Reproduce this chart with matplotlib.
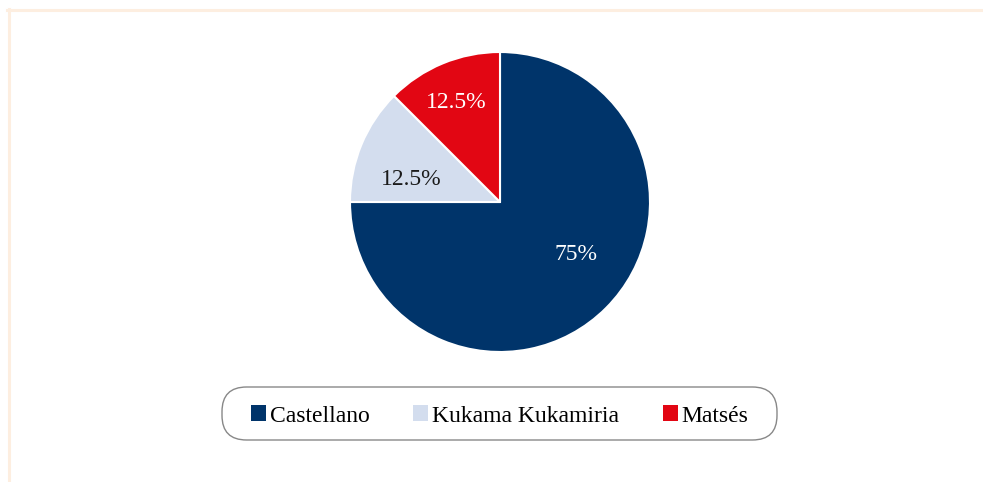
# Gráfico circular: lengua materna (Castellano, Kukama Kukamiria, Matsés)

import matplotlib.pyplot as plt
from matplotlib.patches import Patch, FancyBboxPatch
from matplotlib.lines import Line2D

categorias = ["Castellano", "Kukama Kukamiria", "Matsés"]
valores = [75, 12.5, 12.5]
etiquetas = ["75%", "12.5%", "12.5%"]
colores = ["#00346A", "#D3DDEE", "#E20613"]
colores_texto = ["white", "#1a1a1a", "white"]

# posiciones de las etiquetas dentro del pastel (coordenadas del eje, radio = 1)
pos_etiquetas = [(0.51, -0.35), (-0.59, 0.15), (-0.29, 0.66)]

W, H = 983, 482
plt.rcParams["font.family"] = ["Liberation Serif", "DejaVu Serif"]

fig = plt.figure(figsize=(W / 100, H / 100), dpi=100)

# marco beige de fondo (arriba e izquierda)
fig.add_artist(Line2D([7 / W, 1], [1 - 10 / H, 1 - 10 / H], color="#FDEEE0", lw=2.2,
                      transform=fig.transFigure))
fig.add_artist(Line2D([8.5 / W, 8.5 / W], [0, 1 - 9 / H], color="#FDEEE0", lw=2.2,
                      transform=fig.transFigure))

# eje del pastel: centro (500, 202), radio 150 px
cx, cy, r = 500, 202, 150
ax = fig.add_axes([(cx - r) / W, 1 - (cy + r) / H, 2 * r / W, 2 * r / H])
wedges, _ = ax.pie(valores, colors=colores, startangle=90, counterclock=False,
                   radius=1, wedgeprops=dict(edgecolor="white", linewidth=1.5))
ax.set_xlim(-1, 1)
ax.set_ylim(-1, 1)
ax.set_aspect("equal")
ax.axis("off")

for txt, (x, y), c in zip(etiquetas, pos_etiquetas, colores_texto):
    ax.text(x, y, txt, ha="center", va="center", fontsize=17, color=c)

# caja redondeada de la leyenda
caja = FancyBboxPatch((222 / W, 1 - 440 / H), 555 / W, 53 / H,
                      boxstyle="round,pad=0,rounding_size=0.025",
                      mutation_aspect=W / H, transform=fig.transFigure,
                      facecolor="white", edgecolor="#888888", linewidth=1.0)
fig.add_artist(caja)

handles = [Patch(facecolor=c, edgecolor="none") for c in colores]
leg = fig.legend(handles, categorias, loc="center", bbox_to_anchor=(499.5 / W, 1 - 416 / H),
                 ncol=3, fontsize=17, frameon=False,
                 handlelength=0.65, handleheight=0.65, handletextpad=0.15,
                 columnspacing=1.85, borderpad=0.3)

fig.savefig("out.png", dpi=100)
